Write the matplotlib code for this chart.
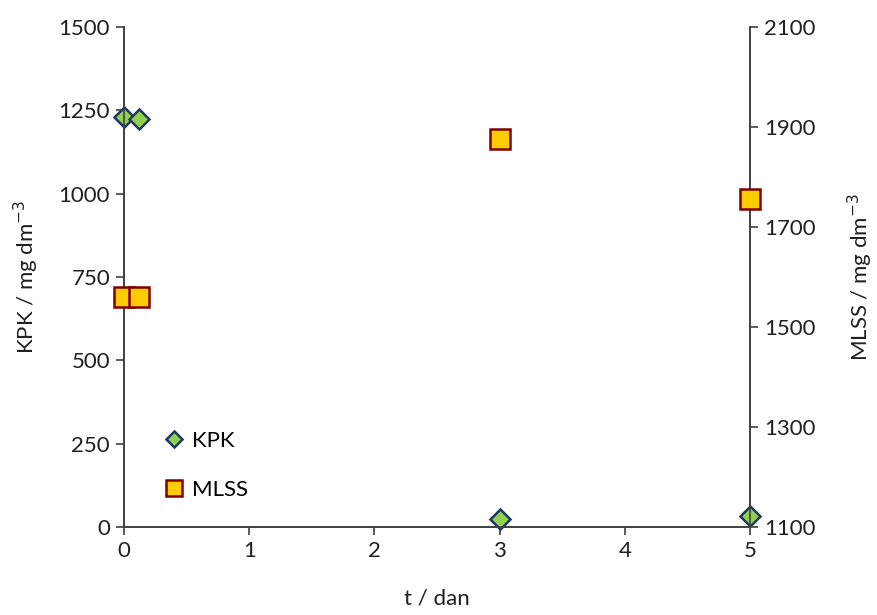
import matplotlib
matplotlib.use("Agg")
import matplotlib.pyplot as plt

plt.rcParams['font.family'] = ['Lato', 'DejaVu Sans']

# data
t_kpk = [0, 0.12, 3, 5]
kpk = [1230, 1224, 24, 33]
t_mlss = [0, 0.12, 3, 5]
mlss = [1560, 1560, 1876, 1756]

fig = plt.figure(figsize=(8.77, 6.15), dpi=100)
ax = fig.add_axes([0.1414, 0.143, 0.7138, 0.813])
ax2 = ax.twinx()

l1, = ax.plot(t_kpk, kpk, linestyle='none', marker='D', markersize=10,
              markerfacecolor='#92D050', markeredgecolor='#1F3864', markeredgewidth=1.8,
              label='KPK', clip_on=False, zorder=5)
l2, = ax2.plot(t_mlss, mlss, linestyle='none', marker='s', markersize=14,
               markerfacecolor='#FFCC00', markeredgecolor='#7F0000', markeredgewidth=1.8,
               label='MLSS', clip_on=False, zorder=5)

ax.set_xlim(0, 5)
ax.set_ylim(0, 1500)
ax.set_yticks([0, 250, 500, 750, 1000, 1250, 1500])
ax2.set_ylim(1100, 2100)
ax2.set_yticks([1100, 1300, 1500, 1700, 1900, 2100])
ax.set_xticks([0, 1, 2, 3, 4, 5])

for a in (ax, ax2):
    a.spines['top'].set_visible(False)
    for s in a.spines.values():
        s.set_color('#404040')
        s.set_linewidth(1.2)
    a.tick_params(direction='out', length=6, width=1.2, color='#404040',
                  labelsize=16, labelcolor='#202020', pad=4)

ax.set_xlabel('t / dan', fontsize=16, color='#202020', labelpad=20)
ax.set_ylabel('KPK / mg dm$^{-3}$', fontsize=16, color='#202020', labelpad=13)
ax2.set_ylabel('MLSS / mg dm$^{-3}$', fontsize=16, color='#202020', labelpad=22)

ax2.legend([l1, l2], ['KPK', 'MLSS'], loc='lower left', bbox_to_anchor=(0.03, 0.015),
           frameon=False, fontsize=16, markerscale=0.82, handletextpad=0.3,
           labelspacing=1.3, handlelength=1.0)

fig.savefig('out.png', dpi=100)
